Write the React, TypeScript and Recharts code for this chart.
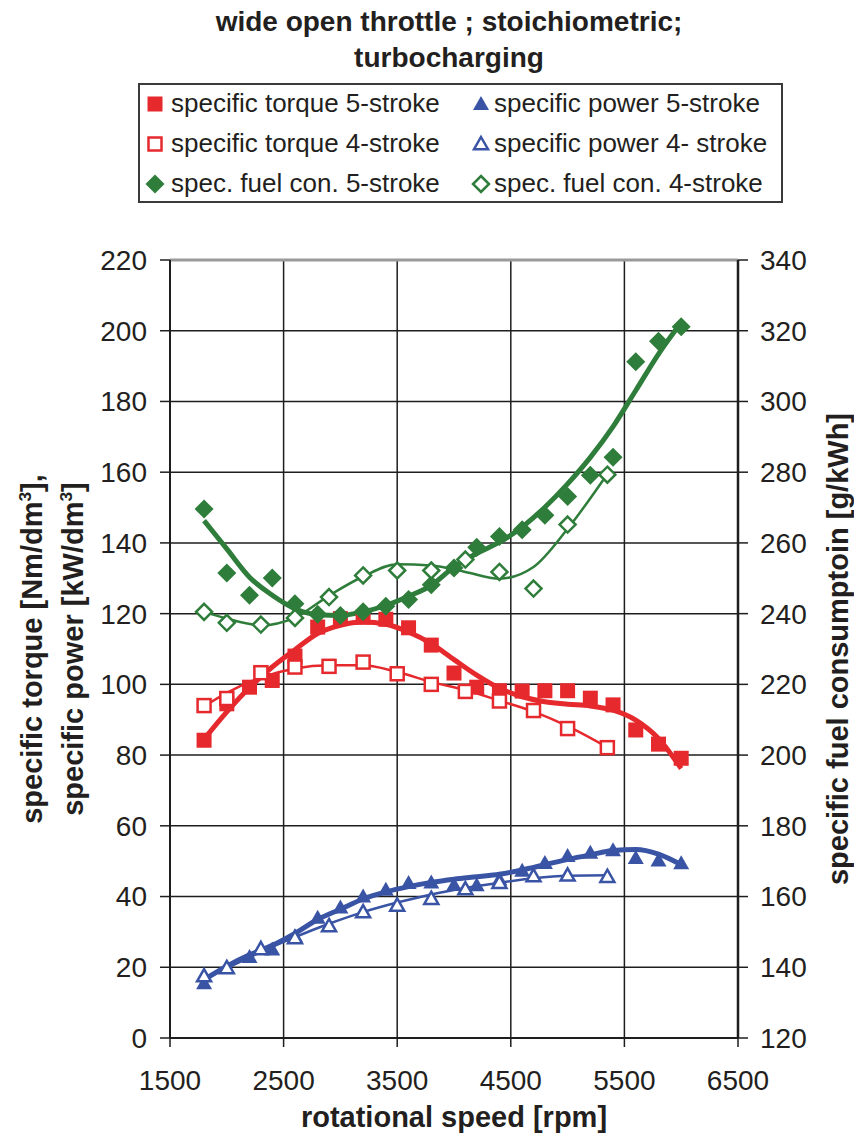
import type { ReactNode } from "react"
import {
	CartesianGrid,
	ComposedChart,
	Line,
	ReferenceLine,
	Scatter,
	XAxis,
	YAxis,
} from "recharts"

// measured speeds (5-stroke every 200 rpm, 4-stroke every 300 rpm)
const rpm5 = [
	1800, 2000, 2200, 2400, 2600, 2800, 3000, 3200, 3400, 3600, 3800, 4000, 4200,
	4400, 4600, 4800, 5000, 5200, 5400, 5600, 5800, 6000,
]
const rpm4 = [1800, 2000, 2300, 2600, 2900, 3200, 3500, 3800, 4100, 4400, 4700, 5000, 5350]

// left axis: torque [Nm/dm3], power [kW/dm3]
const torque5 = [
	84.2, 94.5, 99.2, 101.1, 108, 116.2, 118.6, 119, 118.4, 116, 111.1, 103.2, 99.2,
	98.2, 98.1, 98.2, 98.2, 96.1, 94.2, 87.1, 83.1, 79.1,
]
const torque4 = [94, 96, 103.3, 104.9, 105.1, 106.3, 103, 100, 98, 95.3, 92.6, 87.5, 82.1]
const power5 = [
	15.5, 20, 22.9, 25, 28.8, 34, 36.9, 40, 41.9, 43.8, 44, 43.3, 43.2, 44.8, 47.3,
	49.5, 51.5, 52.4, 53.1, 50.9, 50.2, 49.4,
]
const power4 = [17.5, 19.8, 25.2, 28.3, 31.7, 35.6, 37.5, 39.4, 42.1, 43.9, 45.8, 46, 45.6]

// right axis: fuel consumption [g/kWh]
const fuel5 = [
	269.6, 251.5, 245.2, 250.1, 242.8, 239.8, 239.5, 240.5, 242.1, 244, 248.2, 252.9,
	258.8, 261.8, 263.7, 267.8, 273.1, 279.1, 284.2, 311.2, 317, 321.1,
]
const fuel4 = [
	240.5, 237.4, 236.9, 238.8, 244.7, 250.8, 252.2, 252.2, 255.3, 251.8, 247.1, 265.2,
	279.3,
]

// trend lines at the same speeds
const torque5Trend = [
	84.5, 92.2, 99.1, 104.9, 109.8, 114.4, 116.7, 117.6, 117, 114.8, 111.5, 107, 102.6,
	98.9, 96.5, 95.1, 94.4, 93.9, 92.7, 89.9, 84.7, 76.2,
]
const torque4Trend = [93.8, 97.6, 101.9, 104.5, 105.4, 105.4, 103.5, 100.7, 98.4, 95.4, 92.3, 88.2, 82.2]
const power5Trend = [
	16.5, 20.3, 23.5, 26.2, 29.6, 33.5, 36.4, 39.3, 41.3, 42.8, 44, 44.9, 45.6, 46.3,
	47.5, 49, 50.5, 51.8, 53, 53.3, 52, 49,
]
const power4Trend = [17, 19.8, 24.3, 28.5, 32.3, 35.6, 38.3, 40.6, 42.4, 43.9, 45.2, 45.9, 46]
const fuel5Trend = [
	266.3, 258.3, 250.3, 245.2, 241.4, 239.7, 239.5, 240.5, 242.3, 244.9, 248, 253.2,
	257, 260.2, 264.5, 270.1, 276.7, 284.2, 292.9, 303.1, 313.4, 322.3,
]
const fuel4Trend = [240.5, 238.6, 236.7, 238.9, 245.1, 250.5, 254, 253.6, 251.8, 249.9, 253.2, 264, 279.5]

const xTicks = [1500, 2500, 3500, 4500, 5500, 6500]
const leftTicks = [0, 20, 40, 60, 80, 100, 120, 140, 160, 180, 200, 220]
const rightTicks = [120, 140, 160, 180, 200, 220, 240, 260, 280, 300, 320, 340]

const RED = "#e5292d"
const BLUE = "#3a54a5"
const GREEN = "#2f7d3a"
const INK = "#231f20"
const FONT = "'Liberation Sans', Arial, Helvetica, sans-serif"

type MarkerKind = "square" | "triangle" | "diamond"

interface MarkerProps {
	kind: MarkerKind
	cx: number
	cy: number
	color: string
	filled: boolean
}

const Marker = ({ kind, cx, cy, color, filled }: MarkerProps) => {
	const fill = filled ? color : "#fff"
	const sw = filled ? 0 : 2.5
	if (kind === "square") {
		const h = filled ? 7.5 : 6.5
		return <rect x={cx - h} y={cy - h} width={h * 2} height={h * 2} fill={fill} stroke={color} strokeWidth={sw} />
	}
	if (kind === "triangle") {
		const w = filled ? 8 : 7
		return (
			<polygon
				points={`${cx},${cy - w} ${cx + w},${cy + w * 0.75} ${cx - w},${cy + w * 0.75}`}
				fill={fill}
				stroke={color}
				strokeWidth={sw}
				strokeLinejoin='miter'
			/>
		)
	}
	const d = filled ? 9.5 : 8
	return (
		<polygon
			points={`${cx},${cy - d} ${cx + d},${cy} ${cx},${cy + d} ${cx - d},${cy}`}
			fill={fill}
			stroke={color}
			strokeWidth={sw}
		/>
	)
}

const toPoints = (xs: number[], ys: number[]) => xs.map((rpm, i) => ({ rpm, v: ys[i] }))

interface SeriesDef {
	name: string
	axis: "left" | "right"
	kind: MarkerKind
	color: string
	filled: boolean
	rpm: number[]
	values: number[]
	trend: number[]
}

// legend order: left column first, then right column
const series: SeriesDef[] = [
	{ name: "specific torque 5-stroke", axis: "left", kind: "square", color: RED, filled: true, rpm: rpm5, values: torque5, trend: torque5Trend },
	{ name: "specific torque 4-stroke", axis: "left", kind: "square", color: RED, filled: false, rpm: rpm4, values: torque4, trend: torque4Trend },
	{ name: "spec. fuel con. 5-stroke", axis: "right", kind: "diamond", color: GREEN, filled: true, rpm: rpm5, values: fuel5, trend: fuel5Trend },
	{ name: "specific power 5-stroke", axis: "left", kind: "triangle", color: BLUE, filled: true, rpm: rpm5, values: power5, trend: power5Trend },
	{ name: "specific power 4- stroke", axis: "left", kind: "triangle", color: BLUE, filled: false, rpm: rpm4, values: power4, trend: power4Trend },
	{ name: "spec. fuel con. 4-stroke", axis: "right", kind: "diamond", color: GREEN, filled: false, rpm: rpm4, values: fuel4, trend: fuel4Trend },
]

const textStyle = { fontFamily: FONT, color: INK, whiteSpace: "nowrap" as const, lineHeight: 1 }

const Centered = ({ x, y, rotate, size, bold, children }: { x: number; y: number; rotate?: boolean; size: number; bold?: boolean; children: ReactNode }) => (
	<div
		style={{
			...textStyle,
			position: "absolute",
			left: x,
			top: y,
			fontSize: size,
			fontWeight: bold ? 700 : 400,
			transform: `translate(-50%, -50%)${rotate ? " rotate(-90deg)" : ""}`,
		}}
	>
		{children}
	</div>
)

const Sup = () => <span style={{ fontSize: "0.6em", verticalAlign: "super", lineHeight: 0 }}>3</span>

const LegendBox = () => {
	const markerX = [15, 341]
	const textX = [31, 354]
	const rows = [19, 59, 99]
	return (
		<div
			style={{
				position: "absolute",
				left: 138,
				top: 83,
				width: 645,
				height: 120,
				border: "2px solid #3a3a3a",
				boxSizing: "border-box",
				background: "#fff",
			}}
		>
			{series.map((s, i) => {
				const col = i < 3 ? 0 : 1
				const row = i % 3
				return (
					<div key={s.name}>
						<svg
							width={24}
							height={24}
							style={{ position: "absolute", left: markerX[col] - 12, top: rows[row] - 12 }}
						>
							<Marker kind={s.kind} cx={12} cy={12} color={s.color} filled={s.filled} />
						</svg>
						<div
							style={{
								...textStyle,
								position: "absolute",
								left: textX[col],
								top: rows[row] - 14,
								fontSize: 26,
							}}
						>
							{s.name}
						</div>
					</div>
				)
			})}
		</div>
	)
}

export default function App() {
	const tick = { fill: INK, fontSize: 28, fontFamily: FONT }
	return (
		<div style={{ position: "absolute", left: 0, top: 0, width: 854, height: 1138, background: "#fff" }}>
			<ComposedChart width={854} height={1138} margin={{ top: 260, right: 0, bottom: 0, left: 0 }}>
				<CartesianGrid yAxisId='left' stroke='#1e1e1e' strokeWidth={1.5} />
				<XAxis
					dataKey='rpm'
					type='number'
					domain={[1500, 6500]}
					ticks={xTicks}
					height={100}
					tick={tick}
					tickSize={9}
					tickMargin={23}
					tickLine={{ stroke: "#1e1e1e", strokeWidth: 1.5 }}
					axisLine={{ stroke: "#1e1e1e", strokeWidth: 2 }}
					allowDataOverflow
				/>
				<YAxis
					yAxisId='left'
					type='number'
					domain={[0, 220]}
					ticks={leftTicks}
					width={170}
					tick={tick}
					tickSize={10}
					tickMargin={13}
					tickLine={{ stroke: "#1e1e1e", strokeWidth: 1.5 }}
					axisLine={{ stroke: "#1e1e1e", strokeWidth: 2 }}
				/>
				<YAxis
					yAxisId='right'
					orientation='right'
					type='number'
					domain={[120, 340]}
					ticks={rightTicks}
					width={116}
					tick={tick}
					tickSize={10}
					tickMargin={12}
					tickLine={{ stroke: "#1e1e1e", strokeWidth: 1.5 }}
					axisLine={{ stroke: "#1e1e1e", strokeWidth: 2.5 }}
				/>
				<ReferenceLine yAxisId='left' y={220} stroke='#9a9a9a' strokeWidth={3} />
				{series.map((s) => (
					<Scatter
						key={`pts-${s.name}`}
						yAxisId={s.axis}
						data={toPoints(s.rpm, s.values)}
						dataKey='v'
						isAnimationActive={false}
						shape={(p: { cx?: number; cy?: number }) => (
							<Marker kind={s.kind} cx={p.cx ?? 0} cy={p.cy ?? 0} color={s.color} filled={s.filled} />
						)}
					/>
				))}
				{series.map((s) => (
					<Line
						key={`trend-${s.name}`}
						yAxisId={s.axis}
						data={toPoints(s.rpm, s.trend)}
						dataKey='v'
						type='monotone'
						stroke={s.color}
						strokeWidth={s.filled ? 5 : 2.5}
						dot={false}
						activeDot={false}
						isAnimationActive={false}
					/>
				))}
			</ComposedChart>

			<Centered x={449} y={22} size={28} bold>
				wide open throttle ; stoichiometric;
			</Centered>
			<Centered x={449} y={58} size={28} bold>
				turbocharging
			</Centered>
			<LegendBox />
			<Centered x={32} y={649} size={29} bold rotate>
				specific torque [Nm/dm<Sup />],
			</Centered>
			<Centered x={73} y={649} size={29} bold rotate>
				specific power [kW/dm<Sup />]
			</Centered>
			<Centered x={838} y={649} size={29} bold rotate>
				specific fuel consumptoin [g/kWh]
			</Centered>
			<Centered x={454} y={1117} size={29} bold>
				rotational speed [rpm]
			</Centered>
		</div>
	)
}
